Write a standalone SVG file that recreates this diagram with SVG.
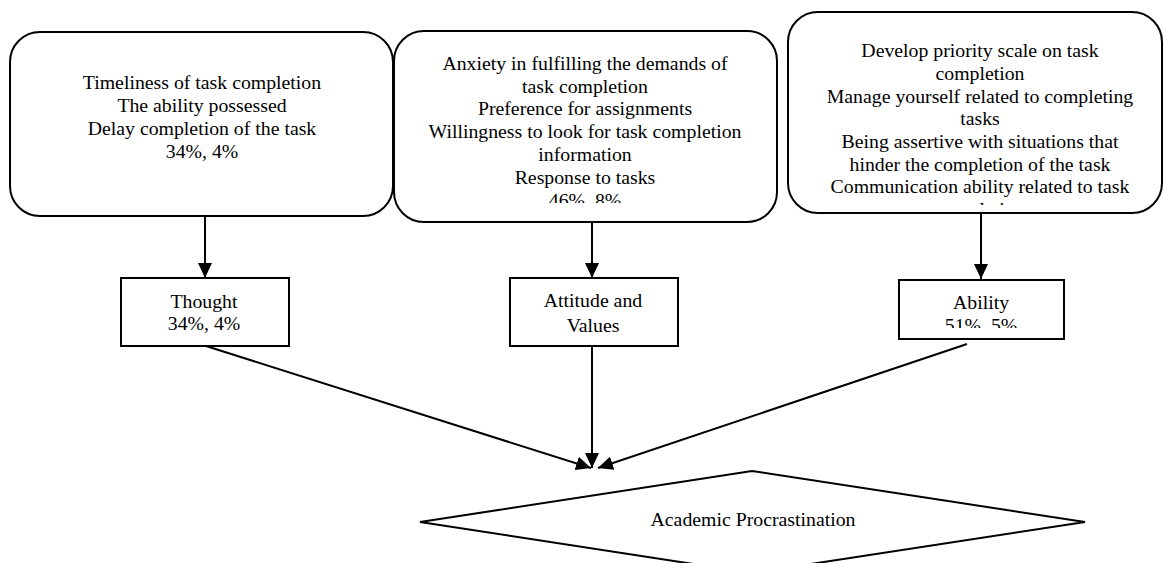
<svg xmlns="http://www.w3.org/2000/svg" width="1163" height="563" viewBox="0 0 1163 563">
<style>
.shape{fill:#fff;stroke:#000;stroke-width:2}
.t{font-family:"Liberation Serif","Times New Roman",serif;font-size:19.8px;fill:#000;text-anchor:middle}
.c{stroke:#000;stroke-width:2;fill:none}
</style>
<defs>
<marker id="ah" markerWidth="15" markerHeight="14" viewBox="0 0 15 14" refX="15" refY="7" orient="auto" markerUnits="userSpaceOnUse">
<path d="M0,0 L15,7 L0,14 Z" fill="#000"/>
</marker>
<clipPath id="clip2"><rect x="394" y="31" width="383" height="172"/></clipPath>
<clipPath id="clip3"><rect x="788" y="12" width="375" height="193"/></clipPath>
<clipPath id="clipA"><rect x="899" y="280" width="165" height="48"/></clipPath>
</defs>
<rect width="1163" height="563" fill="#fff"/>
<g id="connectors">
<line class="c" x1="205" y1="216" x2="205" y2="278" marker-end="url(#ah)"/>
<line class="c" x1="592" y1="222" x2="592" y2="278" marker-end="url(#ah)"/>
<line class="c" x1="981" y1="213" x2="981" y2="279" marker-end="url(#ah)"/>
<line class="c" x1="206" y1="346" x2="591" y2="468" marker-end="url(#ah)"/>
<line class="c" x1="592" y1="346" x2="592" y2="468" marker-end="url(#ah)"/>
<line class="c" x1="967" y1="344" x2="598" y2="468" marker-end="url(#ah)"/>
</g>
<g id="box1">
<rect class="shape" x="10" y="32" width="383" height="184" rx="30" ry="30"/>
<text class="t" x="202"><tspan x="202" y="89">Timeliness of task completion</tspan><tspan x="202" y="112">The ability possessed</tspan><tspan x="202" y="135">Delay completion of the task</tspan><tspan x="202" y="158">34%, 4%</tspan></text>
</g>
<g id="box2">
<rect class="shape" x="394" y="31" width="383" height="191" rx="30" ry="30"/>
<text class="t" clip-path="url(#clip2)"><tspan x="585" y="70">Anxiety in fulfilling the demands of</tspan><tspan x="585" y="92.5">task completion</tspan><tspan x="585" y="115">Preference for assignments</tspan><tspan x="585" y="138">Willingness to look for task completion</tspan><tspan x="585" y="160.5">information</tspan><tspan x="585" y="183.5">Response to tasks</tspan><tspan x="585" y="206.5">46%, 8%</tspan></text>
</g>
<g id="box3">
<rect class="shape" x="788" y="12" width="374" height="201" rx="30" ry="30"/>
<text class="t" clip-path="url(#clip3)"><tspan x="980" y="57">Develop priority scale on task</tspan><tspan x="980" y="80">completion</tspan><tspan x="980" y="102.5">Manage yourself related to completing</tspan><tspan x="980" y="125">tasks</tspan><tspan x="980" y="148">Being assertive with situations that</tspan><tspan x="980" y="170.5">hinder the completion of the task</tspan><tspan x="980" y="193">Communication ability related to task</tspan><tspan x="980" y="216">completion</tspan></text>
</g>
<g id="thought">
<rect class="shape" x="121" y="278" width="168" height="68"/>
<text class="t"><tspan x="204" y="308">Thought</tspan><tspan x="204" y="330">34%, 4%</tspan></text>
</g>
<g id="attitude">
<rect class="shape" x="510" y="278" width="168" height="68"/>
<text class="t"><tspan x="593" y="307">Attitude and</tspan><tspan x="593" y="332">Values</tspan></text>
</g>
<g id="ability">
<rect class="shape" x="899" y="280" width="165" height="59"/>
<text class="t" clip-path="url(#clipA)"><tspan x="981" y="309">Ability</tspan><tspan x="981" y="332">51%, 5%</tspan></text>
</g>
<g id="procrastination">
<polygon class="shape" points="420,522 752,471 1085,522 752,573"/>
<text class="t" x="753" y="526">Academic Procrastination</text>
</g>
</svg>
